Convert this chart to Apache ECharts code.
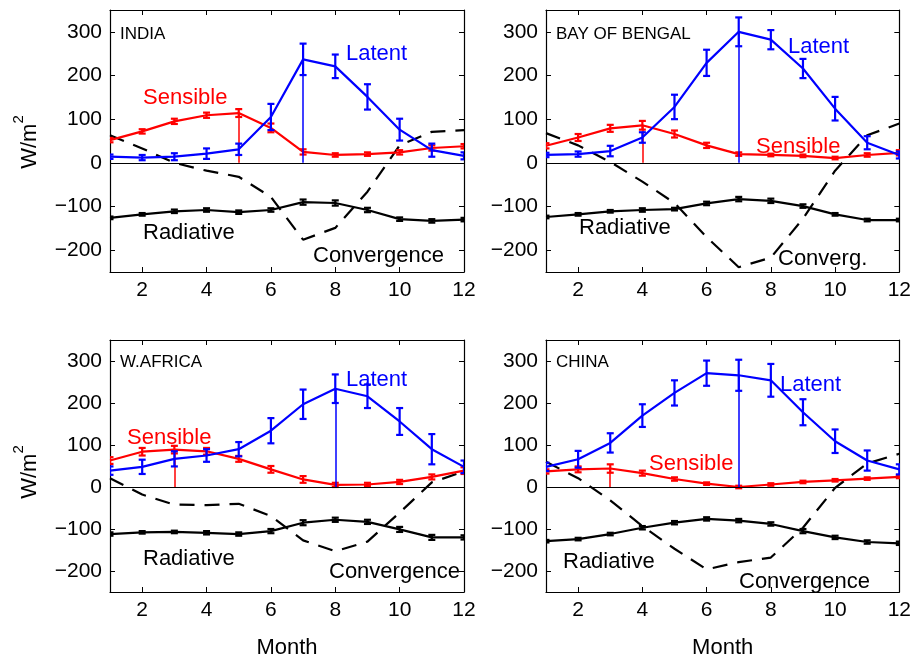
<html>
<head>
    <meta charset="utf-8">
    <script src="https://cdn.jsdelivr.net/npm/echarts@6/dist/echarts.min.js"></script>
</head>
<body>
    <style>
        html, body { width: 100%; height: 100%; margin: 0; background: #fff; }
    </style>
    <div id="main" style="width: 914px;height:660px;"></div>
    <script>
        var MONTHS = [1, 2, 3, 4, 5, 6, 7, 8, 9, 10, 11, 12];
        var X_TICKS = [2, 4, 6, 8, 10, 12];
        var Y_TICKS = [-200, -100, 0, 100, 200, 300];

        // INDIA
        var indiaLatent = [14, 12, 14, 21, 31, 105, 237, 221, 151, 76, 29, 16];
        var indiaLatentErr = [5, 6, 8, 12, 13, 30, 36, 27, 29, 25, 15, 8];
        var indiaSensible = [52, 72, 95, 109, 114, 80, 25, 18, 20, 24, 34, 38];
        var indiaSensibleErr = [5, 5, 6, 6, 9, 10, 6, 4, 4, 5, 6, 5];
        var indiaRadiative = [-126, -118, -111, -108, -113, -108, -90, -92, -108, -129, -133, -130];
        var indiaRadiativeErr = [3, 3, 4, 4, 4, 4, 6, 6, 5, 4, 4, 4];
        var indiaConvergence = [63, 33, 0, -18, -32, -78, -176, -149, -66, 40, 71, 75];

        // BAY OF BENGAL
        var bobLatent = [18, 20, 27, 58, 128, 229, 300, 282, 216, 124, 46, 18];
        var bobLatentErr = [5, 6, 12, 12, 28, 30, 33, 22, 22, 27, 15, 8];
        var bobSensible = [39, 58, 79, 86, 66, 40, 20, 18, 16, 11, 18, 23];
        var bobSensibleErr = [6, 8, 8, 10, 8, 6, 4, 3, 3, 3, 4, 6];
        var bobRadiative = [-124, -118, -111, -108, -106, -93, -83, -87, -99, -118, -131, -131];
        var bobRadiativeErr = [3, 3, 3, 4, 3, 4, 5, 5, 4, 3, 3, 3];
        var bobConvergence = [68, 40, 2, -43, -92, -170, -239, -217, -128, -18, 63, 90];

        // W.AFRICA
        var waLatent = [39, 48, 67, 75, 90, 134, 197, 234, 216, 156, 90, 48];
        var waLatentErr = [10, 17, 18, 15, 17, 30, 35, 34, 28, 32, 36, 15];
        var waSensible = [63, 84, 89, 85, 67, 42, 18, 5, 6, 12, 24, 39];
        var waSensibleErr = [8, 9, 9, 8, 7, 8, 8, 5, 4, 5, 6, 8];
        var waRadiative = [-112, -108, -107, -109, -112, -105, -85, -78, -83, -101, -120, -120];
        var waRadiativeErr = [4, 3, 3, 4, 4, 5, 6, 5, 5, 6, 6, 5];
        var waConvergence = [21, -18, -42, -43, -40, -69, -127, -153, -130, -61, 11, 37];

        // CHINA
        var chLatent = [48, 66, 105, 170, 224, 271, 266, 254, 178, 109, 63, 42];
        var chLatentErr = [10, 20, 23, 27, 30, 30, 37, 39, 31, 28, 24, 12];
        var chSensible = [37, 42, 44, 33, 19, 8, 0, 6, 12, 16, 20, 24];
        var chSensibleErr = [5, 7, 10, 6, 4, 3, 3, 3, 3, 3, 3, 3];
        var chRadiative = [-129, -124, -112, -97, -85, -76, -80, -88, -105, -120, -131, -134];
        var chRadiativeErr = [3, 3, 3, 4, 4, 4, 4, 4, 5, 4, 4, 4];
        var chConvergence = [60, 21, -32, -93, -147, -196, -179, -168, -97, -2, 56, 79];

        var FONT = 'Liberation Sans, Arial, sans-serif';
        var BLUE = '#0000ff', RED = '#ff0000', BLACK = '#000000';

        var panels = [
            { name: 'INDIA', left: 110, top: 10, latent: indiaLatent, latentErr: indiaLatentErr,
              sensible: indiaSensible, sensibleErr: indiaSensibleErr, radiative: indiaRadiative,
              radiativeErr: indiaRadiativeErr, convergence: indiaConvergence, latentPeak: 7, sensiblePeak: 5,
              labels: [['INDIA', 120, 34, BLACK, 17], ['Latent', 346, 54, BLUE, 22], ['Sensible', 143, 98, RED, 22],
                       ['Radiative', 143, 233, BLACK, 22], ['Convergence', 313, 256, BLACK, 22]] },
            { name: 'BAY OF BENGAL', left: 546, top: 10, latent: bobLatent, latentErr: bobLatentErr,
              sensible: bobSensible, sensibleErr: bobSensibleErr, radiative: bobRadiative,
              radiativeErr: bobRadiativeErr, convergence: bobConvergence, latentPeak: 7, sensiblePeak: 4,
              labels: [['BAY OF BENGAL', 556, 34, BLACK, 17], ['Latent', 788, 47, BLUE, 22], ['Sensible', 756, 147, RED, 22],
                       ['Radiative', 579, 228, BLACK, 22], ['Converg.', 778, 259, BLACK, 22]] },
            { name: 'W.AFRICA', left: 110, top: 340, latent: waLatent, latentErr: waLatentErr,
              sensible: waSensible, sensibleErr: waSensibleErr, radiative: waRadiative,
              radiativeErr: waRadiativeErr, convergence: waConvergence, latentPeak: 8, sensiblePeak: 3,
              labels: [['W.AFRICA', 120, 362, BLACK, 17], ['Latent', 346, 380, BLUE, 22], ['Sensible', 127, 438, RED, 22],
                       ['Radiative', 143, 559, BLACK, 22], ['Convergence', 329, 572, BLACK, 22]] },
            { name: 'CHINA', left: 546, top: 340, latent: chLatent, latentErr: chLatentErr,
              sensible: chSensible, sensibleErr: chSensibleErr, radiative: chRadiative,
              radiativeErr: chRadiativeErr, convergence: chConvergence, latentPeak: 7, sensiblePeak: 3,
              labels: [['CHINA', 556, 362, BLACK, 17], ['Latent', 780, 385, BLUE, 22], ['Sensible', 649, 464, RED, 22],
                       ['Radiative', 563, 562, BLACK, 22], ['Convergence', 739, 582, BLACK, 22]] }
        ];

        function pairs(vals) {
            return MONTHS.map(function (m, k) { return [m, vals[k]]; });
        }
        function triples(vals, errs) {
            return MONTHS.map(function (m, k) { return [m, vals[k], errs[k]]; });
        }
        function errorBar(color) {
            return function (params, api) {
                var x = api.value(0), y = api.value(1), e = api.value(2);
                var hi = api.coord([x, y + e]);
                var lo = api.coord([x, y - e]);
                var w = 3.5;
                var st = { stroke: color, lineWidth: 2.2 };
                return {
                    type: 'group',
                    children: [
                        { type: 'line', shape: { x1: hi[0], y1: hi[1], x2: lo[0], y2: lo[1] }, style: st },
                        { type: 'line', shape: { x1: hi[0] - w, y1: hi[1], x2: hi[0] + w, y2: hi[1] }, style: st },
                        { type: 'line', shape: { x1: lo[0] - w, y1: lo[1], x2: lo[0] + w, y2: lo[1] }, style: st }
                    ]
                };
            };
        }

        var grids = [], xAxes = [], yAxes = [], series = [], graphics = [];

        panels.forEach(function (p, i) {
            grids.push({ left: p.left, top: p.top, width: 354, height: 262, containLabel: false });
            var axisLine = { show: true, onZero: false, lineStyle: { color: BLACK, width: 1.2 } };
            xAxes.push({
                gridIndex: i, type: 'value', min: 1, max: 12, position: 'bottom',
                axisLine: axisLine,
                axisTick: { show: true, inside: true, length: 5, customValues: X_TICKS, lineStyle: { color: BLACK } },
                axisLabel: { customValues: X_TICKS, color: BLACK, fontSize: 21, fontFamily: FONT, margin: 8 },
                splitLine: { show: false },
                name: i >= 2 ? 'Month' : '', nameLocation: 'middle', nameGap: 45,
                nameTextStyle: { color: BLACK, fontSize: 22, fontFamily: FONT }
            });
            xAxes.push({
                gridIndex: i, type: 'value', min: 1, max: 12, position: 'top',
                axisLine: axisLine,
                axisTick: { show: true, inside: true, length: 5, customValues: X_TICKS, lineStyle: { color: BLACK } },
                axisLabel: { show: false }, splitLine: { show: false }
            });
            yAxes.push({
                gridIndex: i, type: 'value', min: -250, max: 350, position: 'left',
                axisLine: axisLine,
                axisTick: { show: true, inside: true, length: 5, customValues: Y_TICKS, lineStyle: { color: BLACK } },
                axisLabel: {
                    customValues: Y_TICKS, color: BLACK, fontSize: 21, fontFamily: FONT, margin: 8,
                    formatter: function (v) { return v < 0 ? '\u2212' + (-v) : String(v); }
                },
                splitLine: { show: false }
            });
            yAxes.push({
                gridIndex: i, type: 'value', min: -250, max: 350, position: 'right',
                axisLine: axisLine,
                axisTick: { show: true, inside: true, length: 5, customValues: Y_TICKS, lineStyle: { color: BLACK } },
                axisLabel: { show: false }, splitLine: { show: false }
            });

            var xi = 2 * i, yi = 2 * i;
            var lineBase = { type: 'line', xAxisIndex: xi, yAxisIndex: yi, showSymbol: false, symbol: 'none', silent: true };

            series.push(Object.assign({}, lineBase, {
                data: pairs(p.convergence), z: 2,
                lineStyle: { color: BLACK, width: 2.2, type: [15, 10] }
            }));
            series.push(Object.assign({}, lineBase, {
                data: pairs(p.radiative), z: 3,
                lineStyle: { color: BLACK, width: 2.2 }
            }));
            series.push({
                type: 'custom', xAxisIndex: xi, yAxisIndex: yi, z: 3, clip: true, silent: true,
                renderItem: errorBar(BLACK), data: triples(p.radiative, p.radiativeErr), encode: { x: 0, y: 1 }
            });
            series.push(Object.assign({}, lineBase, {
                data: pairs(p.sensible), z: 4,
                lineStyle: { color: RED, width: 2.2 },
                markLine: {
                    silent: true, symbol: 'none', label: { show: false },
                    data: [
                        [{ coord: [p.sensiblePeak, 0], lineStyle: { color: RED, width: 1.5, type: 'solid' } },
                         { coord: [p.sensiblePeak, p.sensible[p.sensiblePeak - 1]] }]
                    ]
                }
            }));
            series.push({
                type: 'custom', xAxisIndex: xi, yAxisIndex: yi, z: 4, clip: true, silent: true,
                renderItem: errorBar(RED), data: triples(p.sensible, p.sensibleErr), encode: { x: 0, y: 1 }
            });
            series.push(Object.assign({}, lineBase, {
                data: pairs(p.latent), z: 5,
                lineStyle: { color: BLUE, width: 2.2 },
                markLine: {
                    silent: true, symbol: 'none', label: { show: false },
                    data: [
                        { yAxis: 0, lineStyle: { color: BLACK, width: 1, type: 'solid' } },
                        [{ coord: [p.latentPeak, 0], lineStyle: { color: BLUE, width: 1.5, type: 'solid' } },
                         { coord: [p.latentPeak, p.latent[p.latentPeak - 1]] }]
                    ]
                }
            }));
            series.push({
                type: 'custom', xAxisIndex: xi, yAxisIndex: yi, z: 5, clip: true, silent: true,
                renderItem: errorBar(BLUE), data: triples(p.latent, p.latentErr), encode: { x: 0, y: 1 }
            });

            p.labels.forEach(function (l) {
                graphics.push({
                    type: 'text', x: l[1], y: l[2], z: 100,
                    style: { text: l[0], fill: l[3], fontSize: l[4], fontFamily: FONT,
                             textAlign: 'left', textVerticalAlign: 'middle' }
                });
            });
        });

        // y axis title with raised exponent
        [142, 472].forEach(function (cy) {
            graphics.push({
                type: 'text', x: 26, y: cy, rotation: Math.PI / 2, z: 100,
                style: {
                    text: '{b|W/m}{s|2}', textAlign: 'center', textVerticalAlign: 'middle',
                    rich: {
                        b: { fontSize: 22, fontFamily: FONT, fill: BLACK, lineHeight: 30, verticalAlign: 'bottom' },
                        s: { fontSize: 15, fontFamily: FONT, fill: BLACK, lineHeight: 30, verticalAlign: 'top' }
                    }
                }
            });
        });

        var chart = echarts.init(document.getElementById('main'));
        chart.setOption({
            animation: false,
            backgroundColor: '#ffffff',
            grid: grids,
            xAxis: xAxes,
            yAxis: yAxes,
            series: series,
            graphic: graphics
        });
    </script>
</body>
</html>
